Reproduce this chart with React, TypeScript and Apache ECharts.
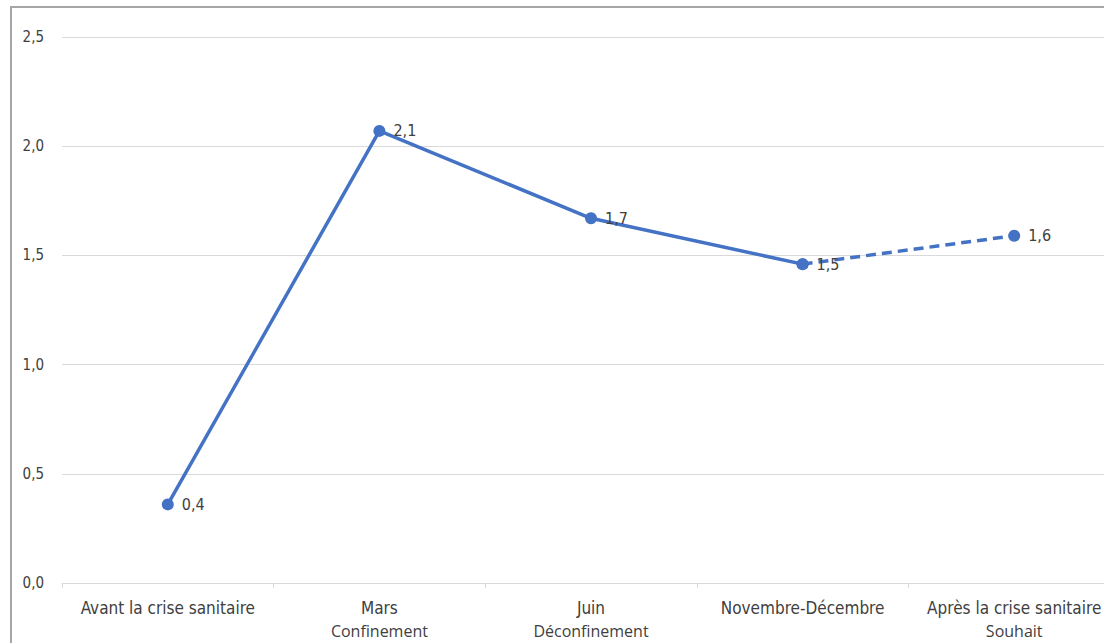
import React, { useEffect, useRef } from "react";
import * as echarts from "echarts";

const categories = [
  "Avant la crise sanitaire",
  "Mars",
  "Juin",
  "Novembre-Décembre",
  "Après la crise sanitaire",
];
const subLabels = ["", "Confinement", "Déconfinement", "", "Souhait"];
const values = [0.36, 2.07, 1.67, 1.46, 1.59];
const yTicks = [0, 0.5, 1, 1.5, 2, 2.5];

const FONT = "'Liberation Sans Narrow', 'DejaVu Sans Condensed', 'Open Sans', sans-serif";
const SUBFONT = "'Open Sans', 'DejaVu Sans', sans-serif";
const BLUE = "#4472c4";

export default function App() {
  const ref = useRef<HTMLDivElement>(null);
  useEffect(() => {
    if (!ref.current) return;
    const chart = echarts.init(ref.current, undefined, { renderer: "svg" });
    const solid = values.map((v, i) => (i <= 3 ? v : null));
    const dashed = values.map((v, i) => (i >= 3 ? v : null));
    const fmt = (p: any) => Number(p.value).toFixed(1).replace(".", ",");
    chart.setOption({
      animation: false,
      backgroundColor: "#ffffff",
      textStyle: { fontFamily: FONT },
      graphic: [
        {
          type: "rect",
          shape: { x: 11, y: 7, width: 1300, height: 800 },
          style: { fill: "none", stroke: "#a6a6a6", lineWidth: 2 },
          silent: true,
        },
      ],
      grid: { left: 62, right: 0, top: 37, bottom: 60 },
      xAxis: {
        type: "category",
        data: categories,
        boundaryGap: true,
        axisLine: { lineStyle: { color: "#d9d9d9", width: 1 } },
        axisTick: { show: true, length: 5, lineStyle: { color: "#d9d9d9" } },
        axisLabel: {
          interval: 0,
          margin: 13,
          formatter: (val: string, idx: number) =>
            subLabels[idx] ? `{a|${val}}\n{b|${subLabels[idx]}}` : `{a|${val}}`,
          rich: {
            a: { fontSize: 17, color: "#404040", fontFamily: FONT, lineHeight: 23 },
            b: { fontSize: 16, color: "#404040", fontFamily: SUBFONT, lineHeight: 23 },
          },
        },
      },
      yAxis: {
        type: "value",
        min: 0,
        max: 2.5,
        interval: 0.5,
        axisLine: { show: false },
        axisTick: { show: false },
        splitLine: { lineStyle: { color: "#d9d9d9", width: 1 } },
        axisLabel: {
          margin: 18,
          color: "#404040",
          fontSize: 15,
          fontFamily: FONT,
          formatter: (v: number) => {
            const t = yTicks.find((x) => Math.abs(x - v) < 1e-9);
            return (t ?? v).toFixed(1).replace(".", ",");
          },
        },
      },
      series: [
        {
          type: "line",
          data: solid,
          connectNulls: false,
          symbol: "circle",
          symbolSize: 12,
          itemStyle: { color: BLUE },
          lineStyle: { color: BLUE, width: 3.5 },
          label: {
            show: true,
            position: "right",
            distance: 8,
            color: "#404040",
            fontSize: 16,
            fontFamily: FONT,
            formatter: fmt,
          },
          z: 3,
        },
        {
          type: "line",
          data: dashed,
          connectNulls: false,
          symbol: "circle",
          symbolSize: 12,
          itemStyle: { color: BLUE },
          lineStyle: { color: BLUE, width: 3.5, type: [10, 6] },
          label: {
            show: true,
            position: "right",
            distance: 8,
            color: "#404040",
            fontSize: 16,
            fontFamily: FONT,
            formatter: (p: any) => (p.dataIndex === 4 ? fmt(p) : ""),
          },
          z: 2,
        },
      ],
    });
    return () => chart.dispose();
  }, []);
  return (
    <div
      style={{
        position: "absolute",
        left: 0,
        top: 0,
        width: 1104,
        height: 643,
        overflow: "hidden",
      }}
    >
      <div ref={ref} style={{ width: 1120, height: 643 }} />
    </div>
  );
}
